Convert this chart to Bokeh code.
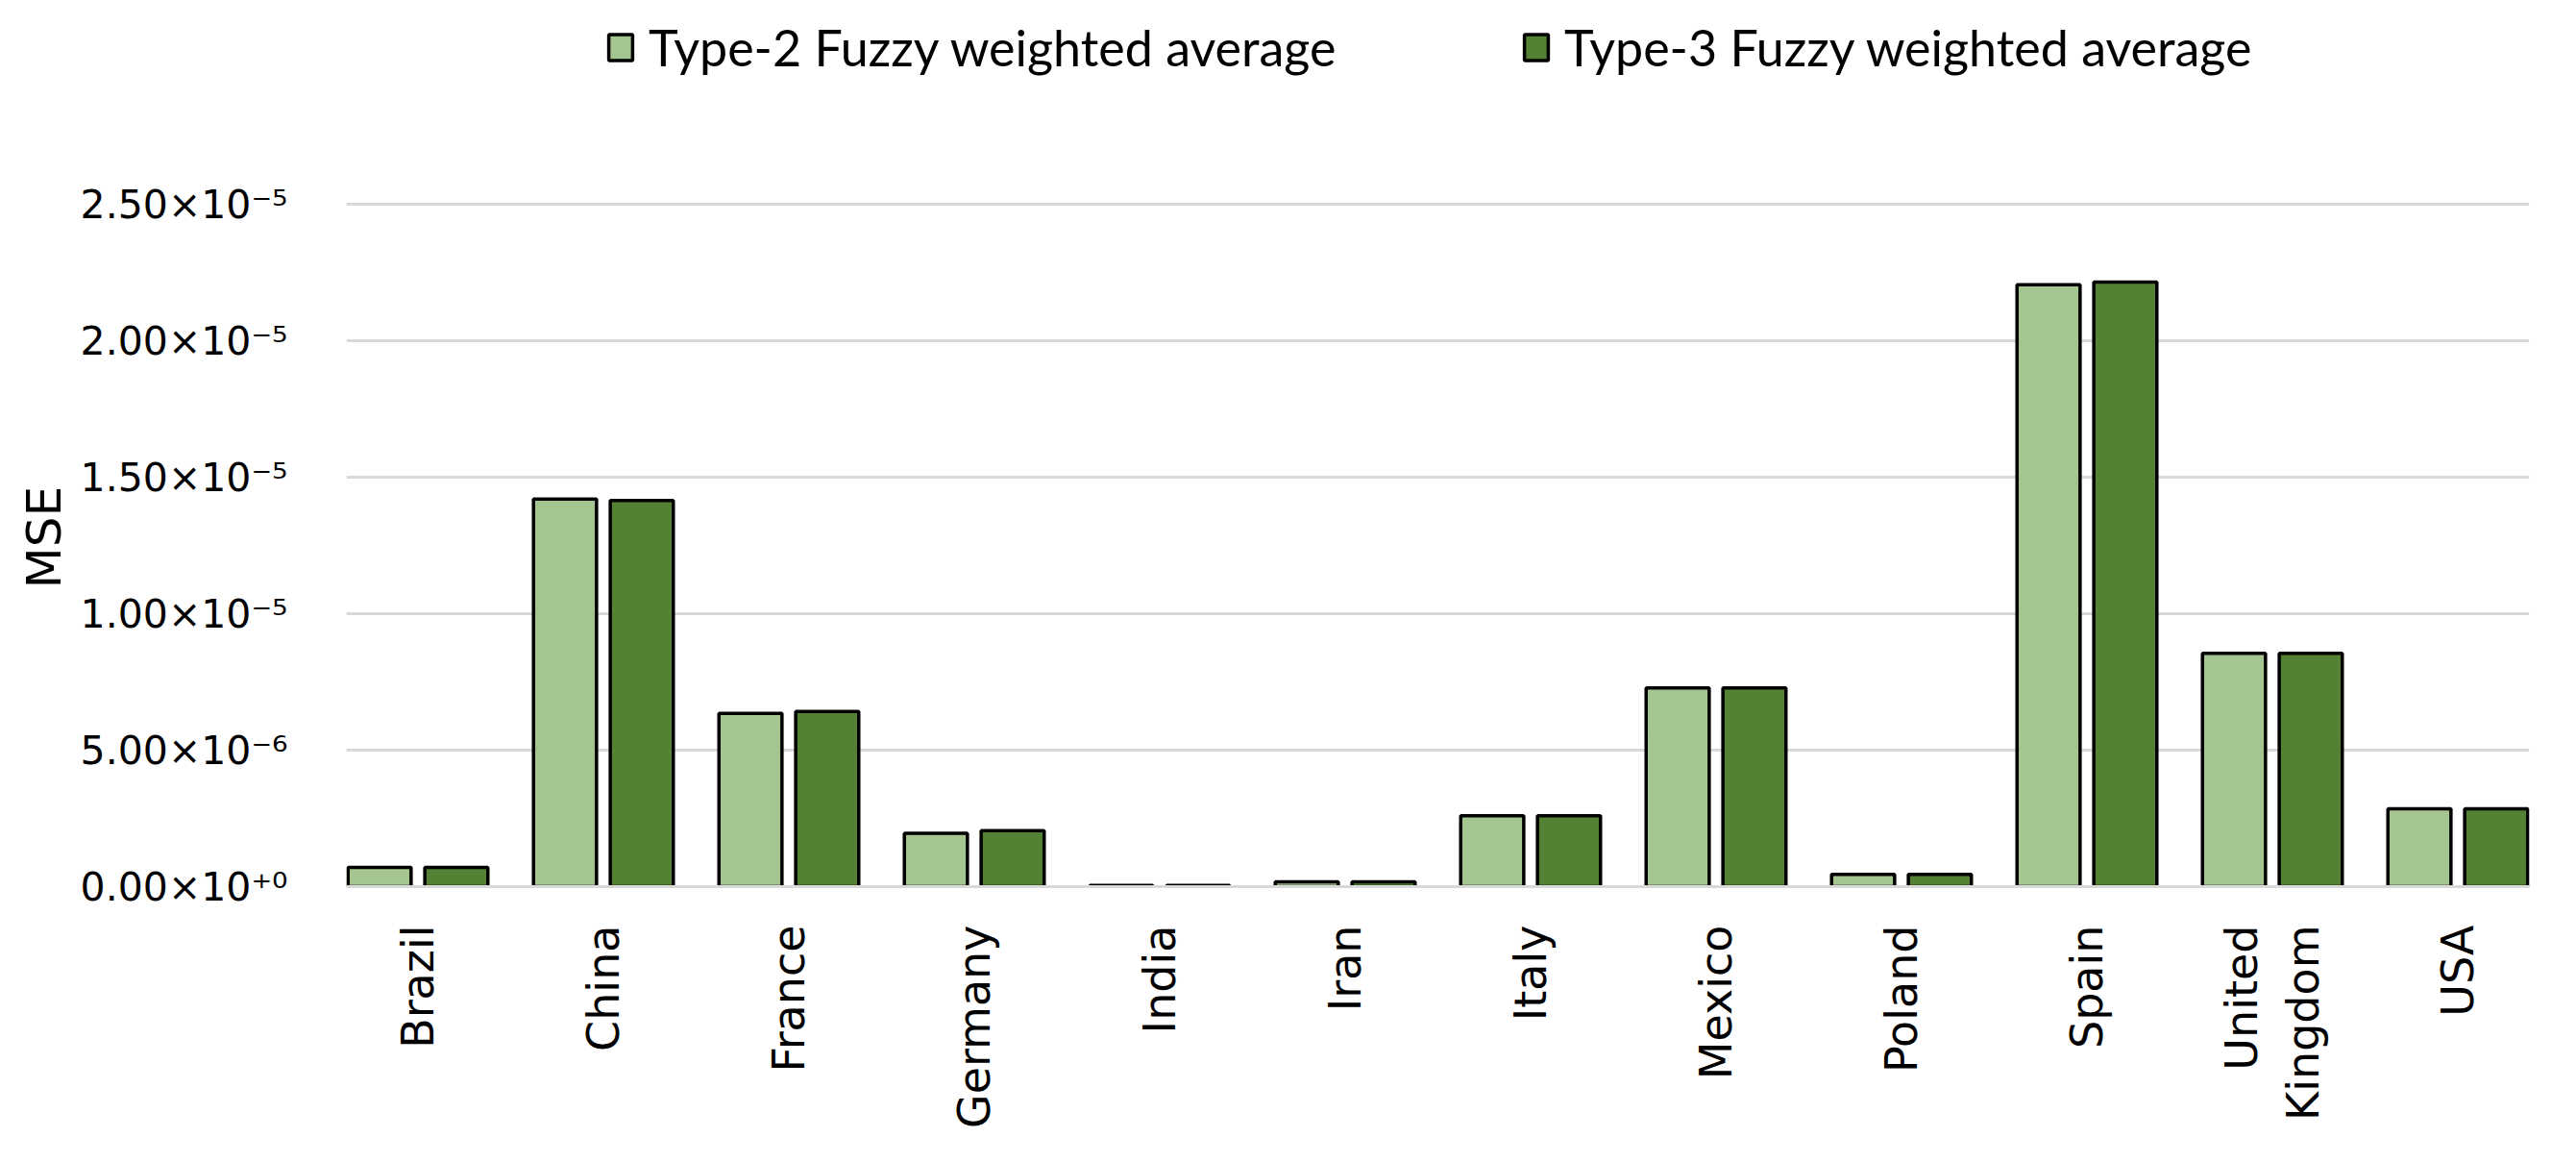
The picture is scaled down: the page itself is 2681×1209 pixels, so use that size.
import math
from bokeh.plotting import figure
from bokeh.models import (FactorRange, Range1d, FixedTicker, CustomJSTickFormatter,
                          Legend, LegendItem, ColumnDataSource, Title)
from bokeh.transform import dodge
from bokeh.embed import file_html
from bokeh.resources import INLINE

# ---- data ----
countries = ["Brazil", "China", "France", "Germany", "India", "Iran", "Italy",
             "Mexico", "Poland", "Spain", "United\nKingdom", "USA"]
type2 = [0.70e-6, 14.20e-6, 6.35e-6, 1.95e-6, 0.04e-6, 0.18e-6, 2.60e-6,
         7.28e-6, 0.45e-6, 22.05e-6, 8.55e-6, 2.85e-6]
type3 = [0.70e-6, 14.15e-6, 6.42e-6, 2.05e-6, 0.04e-6, 0.18e-6, 2.60e-6,
         7.28e-6, 0.45e-6, 22.15e-6, 8.55e-6, 2.85e-6]
series_names = ["Type-2 Fuzzy weighted average", "Type-3 Fuzzy weighted average"]
y_ticks = [0.0, 5e-6, 1e-5, 1.5e-5, 2e-5, 2.5e-5]
y_axis_max = 2.5e-5
y_label = "MSE"

light = "#A5C590"
dark = "#548235"
grid = "#D9D9D9"

# plot geometry (pixels inside the figure)
W, H = 2665, 1193
frame_bottom = 922          # y of the zero line
axis_top_px = 212           # y of the 2.5e-5 line
y_end = y_axis_max * frame_bottom / (frame_bottom - axis_top_px)

src = ColumnDataSource(dict(country=countries, t2=type2, t3=type3))

p = figure(width=W, height=H,
           x_range=FactorRange(factors=countries, range_padding=-0.114,
                               range_padding_units="absolute"),
           y_range=Range1d(0, y_end),
           output_backend="svg", toolbar_location=None,
           min_border_left=360, min_border_right=33,
           min_border_top=0, min_border_bottom=H - frame_bottom)
p.outline_line_color = None
p.background_fill_color = "white"

r2 = p.vbar(x=dodge("country", -0.207, range=p.x_range), top="t2", width=0.34,
            source=src, fill_color=light, line_color="black", line_width=3.5)
r3 = p.vbar(x=dodge("country", 0.207, range=p.x_range), top="t3", width=0.34,
            source=src, fill_color=dark, line_color="black", line_width=3.5)

# grid
p.xgrid.grid_line_color = None
p.ygrid.grid_line_color = grid
p.ygrid.grid_line_width = 3

# x axis
xa = p.xaxis[0]
xa.axis_line_color = grid
xa.axis_line_width = 3
xa.major_tick_line_color = None
xa.minor_tick_line_color = None
xa.major_tick_out = 0
xa.major_label_orientation = math.pi / 2
xa.major_label_text_font = "DejaVu Sans"
xa.major_label_text_font_size = "46px"
xa.major_label_text_color = "black"
xa.major_label_standoff = 40

# y axis
ya = p.yaxis[0]
ya.ticker = FixedTicker(ticks=y_ticks)
ya.formatter = CustomJSTickFormatter(code="""
const sup = {"0":"\u2070","1":"\u00b9","2":"\u00b2","3":"\u00b3","4":"\u2074",
             "5":"\u2075","6":"\u2076","7":"\u2077","8":"\u2078","9":"\u2079",
             "-":"\u207b","+":"\u207a"};
if (Math.abs(tick) < 1e-20) { return "0.00\u00d710\u207a\u2070"; }
const e = Math.floor(Math.log10(Math.abs(tick)) + 1e-9);
const m = tick / Math.pow(10, e);
const es = (e < 0 ? "-" : "+") + String(Math.abs(e));
let s = "";
for (const c of es) { s += sup[c]; }
return m.toFixed(2) + "\u00d710" + s;
""")
ya.axis_line_color = None
ya.major_tick_line_color = None
ya.minor_tick_line_color = None
ya.major_tick_out = 0
ya.major_label_text_font = "DejaVu Sans"
ya.major_label_text_font_size = "41px"
ya.major_label_text_color = "black"
ya.major_label_standoff = 61

# y axis title: start-aligned, offset up from the frame bottom so that it is
# centred on the 0 .. 2.5e-5 span (the frame extends higher to hold the legend)
p.add_layout(Title(text=y_label, align="left", offset=310,
                   text_font="DejaVu Sans", text_font_size="50px",
                   text_font_style="normal", text_color="black",
                   standoff=12), "left")

# legends (two, placed separately, inside the frame's upper empty area)
def make_legend(name, rend, x):
    return Legend(items=[LegendItem(label=name, renderers=[rend])],
                  location=(x, 842), orientation="horizontal",
                  glyph_width=31, glyph_height=34, label_standoff=14,
                  label_text_font="Lato", label_text_font_size="52px",
                  label_text_color="black",
                  padding=0, margin=0, border_line_alpha=0,
                  background_fill_alpha=0)

p.add_layout(make_legend(series_names[0], r2, 270))
p.add_layout(make_legend(series_names[1], r3, 1223))

open("out.html", "w", encoding="utf-8").write(file_html(p, INLINE))
